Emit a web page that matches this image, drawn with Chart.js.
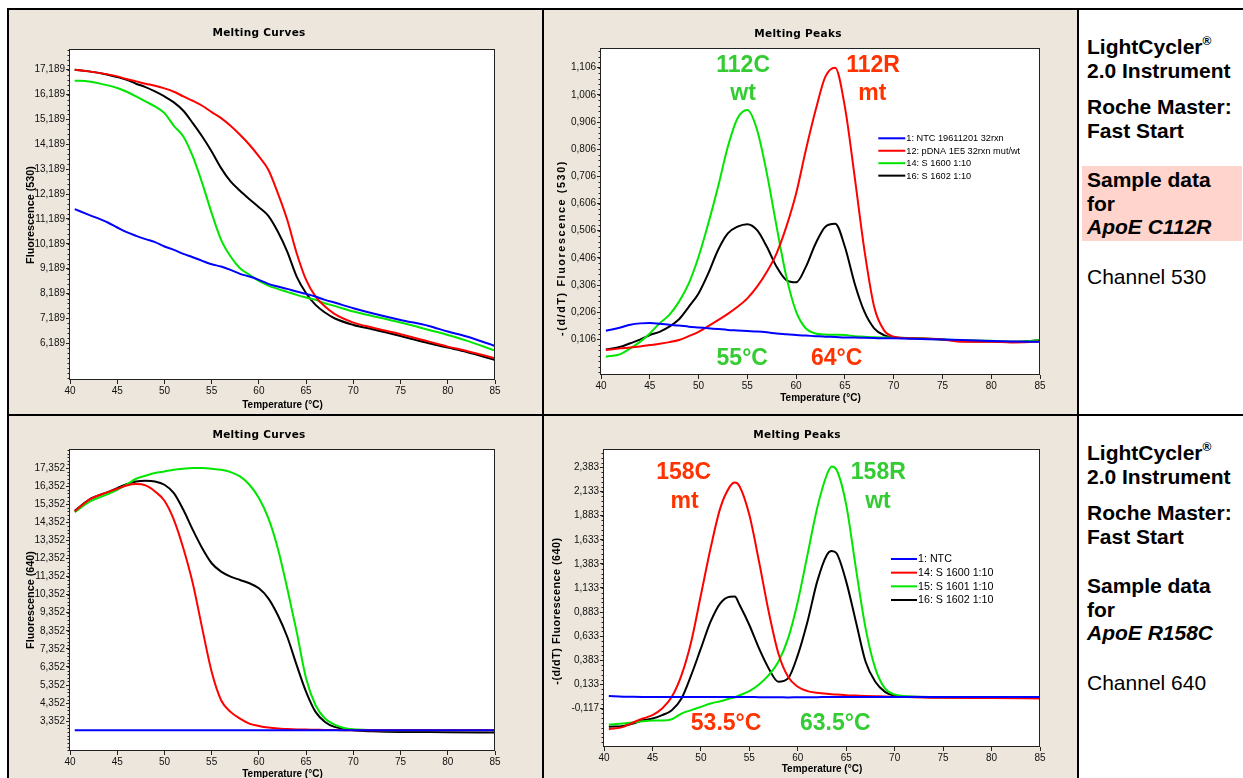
<!DOCTYPE html>
<html>
<head>
<meta charset="utf-8">
<title>ApoE melting curves and peaks</title>
<script src="https://cdn.jsdelivr.net/npm/chart.js@4.4.1/dist/chart.umd.min.js"></script>
<style>
  body { margin: 0; width: 1243px; height: 778px; overflow: hidden; position: relative; background: #fff;
         font-family: "Liberation Sans", Arial, sans-serif; }
  .rule { position: absolute; background: #000; }
  .panel { position: absolute; background: #ede6dc; }
  canvas { position: absolute; }
  .info { position: absolute; left: 1087px; font-size: 21px; line-height: 24px; font-weight: bold; color: #000; white-space: nowrap; }
  .info.plain { font-weight: normal; }
  .info sup { font-size: 12px; line-height: 0; vertical-align: 9px; }
  .hilite { position: absolute; left: 1082px; width: 160px; background: #ffd4cc; }
</style>
</head>
<body>
<div class="panel" style="left:9px;top:10px;width:533px;height:404px"></div>
<div class="panel" style="left:544px;top:10px;width:533px;height:404px"></div>
<div class="panel" style="left:9px;top:416px;width:533px;height:362px"></div>
<div class="panel" style="left:544px;top:416px;width:533px;height:362px"></div>

<canvas id="curves530" width="533" height="404" style="left:9px;top:10px"></canvas>
<canvas id="peaks530" width="533" height="404" style="left:544px;top:10px"></canvas>
<canvas id="curves640" width="533" height="362" style="left:9px;top:416px"></canvas>
<canvas id="peaks640" width="533" height="362" style="left:544px;top:416px"></canvas>

<div class="rule" style="left:7px;top:8px;width:1236px;height:2px"></div>
<div class="rule" style="left:7px;top:8px;width:2px;height:770px"></div>
<div class="rule" style="left:542px;top:8px;width:2px;height:770px"></div>
<div class="rule" style="left:1077px;top:8px;width:2px;height:770px"></div>
<div class="rule" style="left:7px;top:414px;width:1236px;height:2px"></div>

<div class="hilite" style="top:166px;height:75px"></div>
<div class="info" style="top:35px">LightCycler<sup>®</sup><br>2.0 Instrument</div>
<div class="info" style="top:95px">Roche Master:<br>Fast Start</div>
<div class="info" style="top:168px;line-height:23.5px">Sample data<br>for<br><i>ApoE C112R</i></div>
<div class="info plain" style="top:265px">Channel 530</div>

<div class="info" style="top:441px">LightCycler<sup>®</sup><br>2.0 Instrument</div>
<div class="info" style="top:501px">Roche Master:<br>Fast Start</div>
<div class="info" style="top:574px;line-height:23.5px">Sample data<br>for<br><i>ApoE R158C</i></div>
<div class="info plain" style="top:671px">Channel 640</div>

<script>
const xTicks = [40, 45, 50, 55, 60, 65, 70, 75, 80, 85];

// ApoE C112R, channel 530: melting curves
const curveTemps530 = [40.5, 42, 44, 45, 46, 47, 48, 49, 50, 51, 52, 53, 54, 55, 56, 57, 58, 59, 60, 61, 62, 63, 64, 65, 66, 67, 68, 70, 72, 75, 78, 80, 82, 85];
const curve530Ntc = [11582, 11354, 11045, 10844, 10656, 10509, 10375, 10254, 10080, 9945, 9784, 9650, 9503, 9369, 9275, 9141, 8980, 8872, 8738, 8577, 8470, 8376, 8269, 8175, 8067, 7933, 7826, 7598, 7397, 7128, 6887, 6659, 6458, 6082];
const curve530Pdna = [17189, 17122, 17001, 16921, 16813, 16720, 16626, 16545, 16438, 16304, 16116, 15941, 15740, 15485, 15244, 14935, 14573, 14171, 13701, 13165, 12226, 11153, 9811, 8738, 8067, 7665, 7370, 7021, 6820, 6552, 6256, 6055, 5881, 5586];
const curve530S1600 = [16746, 16719, 16559, 16451, 16304, 16116, 15915, 15713, 15445, 14935, 14506, 13701, 12628, 11421, 10348, 9677, 9207, 8939, 8698, 8510, 8376, 8255, 8135, 8027, 7933, 7799, 7692, 7464, 7289, 7021, 6726, 6525, 6297, 5894];
const curve530S1602 = [17189, 17122, 16988, 16894, 16787, 16626, 16491, 16317, 16116, 15874, 15539, 15043, 14506, 13903, 13232, 12695, 12320, 11984, 11662, 11313, 10683, 9878, 8872, 8202, 7732, 7424, 7195, 6927, 6753, 6485, 6189, 6015, 5841, 5519];
const yTicks530Curve = [6189, 7189, 8189, 9189, 10189, 11189, 12189, 13189, 14189, 15189, 16189, 17189];

// ApoE C112R, channel 530: melting peaks
const peakTemps530 = [40.5, 42, 43, 44, 45, 46, 47, 48, 49, 50, 51, 52, 53, 54, 55, 56, 57, 58, 59, 60, 61, 62, 63, 64, 65, 66, 67, 68, 69, 70, 72, 75, 77, 80, 82, 85];
const peak530Ntc = [0.138, 0.150, 0.160, 0.165, 0.166, 0.164, 0.160, 0.157, 0.153, 0.150, 0.147, 0.144, 0.141, 0.139, 0.137, 0.135, 0.132, 0.128, 0.125, 0.122, 0.120, 0.118, 0.116, 0.115, 0.113, 0.113, 0.112, 0.111, 0.110, 0.110, 0.108, 0.106, 0.104, 0.100, 0.098, 0.097];
const peak530Pdna = [0.067, 0.073, 0.076, 0.080, 0.085, 0.090, 0.096, 0.104, 0.118, 0.134, 0.155, 0.177, 0.200, 0.226, 0.257, 0.300, 0.355, 0.423, 0.521, 0.643, 0.803, 0.950, 1.073, 1.106, 0.962, 0.705, 0.435, 0.226, 0.140, 0.116, 0.110, 0.106, 0.097, 0.097, 0.095, 0.098];
const peak530S1600 = [0.042, 0.052, 0.073, 0.097, 0.128, 0.165, 0.196, 0.245, 0.312, 0.410, 0.533, 0.668, 0.815, 0.920, 0.950, 0.877, 0.717, 0.521, 0.337, 0.208, 0.146, 0.128, 0.124, 0.123, 0.122, 0.118, 0.116, 0.114, 0.113, 0.113, 0.110, 0.106, 0.103, 0.101, 0.097, 0.103];
const peak530S1602 = [0.069, 0.079, 0.092, 0.105, 0.122, 0.134, 0.153, 0.180, 0.226, 0.275, 0.349, 0.435, 0.496, 0.521, 0.530, 0.508, 0.447, 0.373, 0.324, 0.316, 0.373, 0.459, 0.521, 0.532, 0.447, 0.312, 0.208, 0.147, 0.122, 0.113, 0.110, 0.106, 0.100, 0.098, 0.097, 0.103];
const yTicks530Peak = [0.106, 0.206, 0.306, 0.406, 0.506, 0.606, 0.706, 0.806, 0.906, 1.006, 1.106];
const legend530 = ["1: NTC 19611201 32rxn", "12: pDNA 1E5 32rxn mut/wt", "14: S 1600 1:10", "16: S 1602 1:10"];

// ApoE R158C, channel 640: melting curves
const curveTemps640 = [40.5, 42, 44, 45, 46, 47, 48, 49, 50, 51, 52, 53, 54, 55, 56, 57, 58, 59, 60, 61, 62, 63, 64, 65, 66, 67, 68, 69, 70, 72, 75, 80, 85];
const curve640Ntc = [2853, 2853, 2853, 2853, 2853, 2853, 2853, 2853, 2853, 2853, 2853, 2853, 2853, 2853, 2853, 2853, 2853, 2853, 2853, 2853, 2853, 2853, 2853, 2853, 2853, 2853, 2853, 2853, 2853, 2853, 2853, 2853, 2853];
const curve640S1600 = [14951, 15597, 16022, 16207, 16392, 16465, 16392, 16059, 15542, 14489, 12919, 10980, 8487, 6085, 4515, 3869, 3500, 3222, 3093, 3000, 2945, 2920, 2900, 2890, 2880, 2870, 2865, 2860, 2853, 2850, 2850, 2850, 2850];
const curve640S1601 = [14914, 15468, 15912, 16151, 16429, 16761, 16927, 17075, 17167, 17260, 17315, 17352, 17352, 17315, 17260, 17130, 16890, 16429, 15690, 14581, 12919, 10703, 8302, 5716, 4238, 3500, 3167, 2983, 2908, 2870, 2853, 2853, 2853];
const curve640S1602 = [14988, 15597, 16022, 16244, 16465, 16613, 16650, 16613, 16429, 15967, 15043, 13935, 12919, 12088, 11626, 11349, 11165, 10980, 10703, 10149, 9225, 8025, 6455, 4977, 3869, 3315, 3038, 2930, 2853, 2798, 2761, 2750, 2724];
const yTicks640Curve = [3352, 4352, 5352, 6352, 7352, 8352, 9352, 10352, 11352, 12352, 13352, 14352, 15352, 16352, 17352];

// ApoE R158C, channel 640: melting peaks
const peakTemps640 = [40.5, 42, 43, 44, 45, 46, 47, 48, 49, 50, 51, 52, 53, 53.5, 54, 55, 56, 57, 58, 59, 60, 61, 62, 63, 63.5, 64, 65, 66, 67, 68, 69, 70, 72, 75, 80, 85];
const peak640Ntc = [0.012, 0.006, 0.004, 0.003, 0.003, 0.003, 0.003, 0.003, 0.003, 0.002, 0.002, 0.002, 0.002, 0.002, 0.002, 0.002, 0.001, 0.001, 0.000, -0.002, 0.000, 0.001, 0.001, 0.002, 0.002, 0.002, 0.002, 0.002, 0.002, 0.002, 0.002, 0.002, 0.002, 0.002, 0.003, 0.003];
const peak640S1600 = [-0.332, -0.307, -0.262, -0.221, -0.186, -0.117, 0.004, 0.229, 0.576, 1.060, 1.545, 1.961, 2.186, 2.227, 2.186, 1.891, 1.407, 0.887, 0.454, 0.212, 0.108, 0.063, 0.046, 0.035, 0.031, 0.028, 0.021, 0.017, 0.013, 0.010, 0.008, 0.004, 0.000, -0.006, -0.008, -0.013];
const peak640S1601 = [-0.283, -0.273, -0.262, -0.249, -0.242, -0.242, -0.228, -0.169, -0.134, -0.100, -0.065, -0.041, -0.013, 0.000, 0.021, 0.063, 0.132, 0.229, 0.368, 0.610, 0.991, 1.476, 1.961, 2.307, 2.393, 2.359, 1.995, 1.337, 0.714, 0.299, 0.091, 0.028, 0.005, -0.003, -0.003, 0.000];
const peak640S1602 = [-0.307, -0.297, -0.273, -0.238, -0.221, -0.186, -0.134, -0.013, 0.229, 0.506, 0.783, 0.974, 1.043, 1.045, 0.956, 0.749, 0.506, 0.299, 0.160, 0.195, 0.437, 0.783, 1.199, 1.476, 1.517, 1.493, 1.199, 0.783, 0.368, 0.160, 0.056, 0.015, 0.004, 0.000, 0.000, 0.000];
const yTicks640Peak = [-0.117, 0.133, 0.383, 0.633, 0.883, 1.133, 1.383, 1.633, 1.883, 2.133, 2.383];
const legend640 = ["1: NTC", "14: S 1600 1:10", "15: S 1601 1:10", "16: S 1602 1:10"];

const BLUE = "#0000ff", RED = "#ff0000", GREEN = "#00e600", BLACK = "#000000";
const NOTE_RED = "#ff3300", NOTE_GREEN = "#33cc33";

Chart.defaults.font.family = '"Liberation Sans", Arial, sans-serif';
Chart.defaults.font.size = 10;
Chart.defaults.color = "#000";

const thousands = (v) => Math.round(v).toLocaleString("en-US");
const decimalComma = (v) => v.toFixed(3).replace(".", ",");

// white plot area, frame, minor ticks, titles, legend and labels
const panelDecor = {
  id: "panelDecor",
  beforeDraw(chart) {
    const { ctx, chartArea: a } = chart;
    ctx.save();
    ctx.fillStyle = "#fff";
    ctx.fillRect(a.left, a.top, a.right - a.left, a.bottom - a.top);
    ctx.restore();
  },
  afterDraw(chart, args, o) {
    const { ctx, chartArea: a, scales } = chart;
    const y = scales.y;
    ctx.save();
    ctx.strokeStyle = "#222";
    ctx.lineWidth = 1;
    const l = Math.round(a.left) - 0.5, t = Math.round(a.top) + 0.5;
    const r = Math.round(a.right) - 0.5, b = Math.round(a.bottom) - 0.5;
    ctx.strokeRect(l, t, r - l, b - t);

    // minor ticks on the value axis
    ctx.beginPath();
    const first = y.ticks[0].value;
    for (let v = first; v <= y.max; v += o.minorStep) addMinor(v);
    for (let v = first - o.minorStep; v >= y.min; v -= o.minorStep) addMinor(v);
    function addMinor(v) {
      const py = Math.round(y.getPixelForValue(v)) + 0.5;
      ctx.moveTo(l, py);
      ctx.lineTo(l - 2, py);
    }
    ctx.stroke();

    // chart title
    ctx.fillStyle = "#000";
    ctx.textAlign = "center";
    ctx.textBaseline = "middle";
    ctx.font = 'bold 10.5px "DejaVu Sans"';
    ctx.letterSpacing = "0.3px";
    ctx.fillText(o.title, o.titleX, o.titleY);

    // axis titles
    ctx.font = 'bold 10px "Liberation Sans"';
    ctx.letterSpacing = "0px";
    ctx.fillText("Temperature (°C)", (a.left + a.right) / 2, o.xTitleY);
    ctx.save();
    ctx.translate(o.yTitleX, o.yTitleY);
    ctx.rotate(-Math.PI / 2);
    ctx.font = 'bold ' + o.yTitleSize + 'px "Liberation Sans"';
    ctx.letterSpacing = o.yTitleSpacing + "px";
    ctx.fillText(o.yTitle, 0, 0);
    ctx.restore();

    // legend
    if (o.legend) {
      const lg = o.legend;
      ctx.font = lg.size + 'px "Liberation Sans"';
      ctx.textAlign = "left";
      chart.data.datasets.forEach((ds, i) => {
        const ly = lg.y + i * lg.rowH;
        ctx.strokeStyle = ds.borderColor;
        ctx.lineWidth = 2;
        ctx.beginPath();
        ctx.moveTo(lg.x, ly);
        ctx.lineTo(lg.x + lg.lineLen, ly);
        ctx.stroke();
        ctx.fillStyle = "#000";
        ctx.fillText(ds.label, lg.x + lg.lineLen + 1, ly + 0.5);
      });
    }

    // big peak labels, anchored in data coordinates
    ctx.font = 'bold 23px "Liberation Sans"';
    ctx.textAlign = "center";
    (o.notes || []).forEach((n) => {
      ctx.fillStyle = n.color;
      ctx.fillText(n.text, scales.x.getPixelForValue(n.t), y.getPixelForValue(n.v));
    });
    ctx.restore();
  },
};

function series(temps, values) {
  return temps.map((t, i) => ({ x: t, y: values[i] }));
}

function makeChart(id, c) {
  const datasets = c.lines.map((s) => ({
    label: s.label,
    data: series(c.temps, s.values),
    borderColor: s.color,
    backgroundColor: s.color,
    borderWidth: 2,
    pointRadius: 0,
    fill: false,
    cubicInterpolationMode: "monotone",
  }));
  return new Chart(document.getElementById(id), {
    type: "line",
    data: { datasets },
    plugins: [panelDecor],
    options: {
      responsive: false,
      animation: false,
      layout: { padding: { top: c.box.top, right: c.box.right, bottom: 0, left: 0 } },
      plugins: {
        legend: { display: false },
        tooltip: { enabled: false },
        panelDecor: c.decor,
      },
      scales: {
        x: {
          type: "linear",
          min: 40,
          max: 85,
          afterBuildTicks: (s) => { s.ticks = xTicks.map((v) => ({ value: v })); },
          afterFit: (s) => { s.height = c.box.bottom; },
          ticks: { padding: 1, maxRotation: 0, callback: (v) => String(v), color: "#111" },
          grid: { drawOnChartArea: false, tickLength: 4, color: "#222" },
          border: { display: false },
        },
        y: {
          type: "linear",
          min: c.yMin,
          max: c.yMax,
          afterBuildTicks: (s) => { s.ticks = c.yTicks.map((v) => ({ value: v })); },
          afterFit: (s) => { s.width = c.box.left; },
          ticks: { padding: 1, callback: c.fmt, color: "#111" },
          grid: { drawOnChartArea: false, tickLength: 4, color: "#222" },
          border: { display: false },
        },
      },
    },
  });
}

makeChart("curves530", {
  temps: curveTemps530,
  lines: [
    { label: legend530[0], color: BLUE, values: curve530Ntc },
    { label: legend530[1], color: RED, values: curve530Pdna },
    { label: legend530[2], color: GREEN, values: curve530S1600 },
    { label: legend530[3], color: BLACK, values: curve530S1602 },
  ],
  yMin: 4712, yMax: 18022, yTicks: yTicks530Curve, fmt: thousands,
  box: { left: 61, right: 47, top: 39, bottom: 34 },
  decor: {
    title: "Melting Curves", titleX: 250, titleY: 23, minorStep: 200,
    xTitleY: 395.5, yTitle: "Fluorescence (530)", yTitleX: 22, yTitleY: 205, yTitleSize: 10.8, yTitleSpacing: 0,
  },
});

makeChart("peaks530", {
  temps: peakTemps530,
  lines: [
    { label: legend530[0], color: BLUE, values: peak530Ntc },
    { label: legend530[1], color: RED, values: peak530Pdna },
    { label: legend530[2], color: GREEN, values: peak530S1600 },
    { label: legend530[3], color: BLACK, values: peak530S1602 },
  ],
  yMin: -0.025, yMax: 1.1785, yTicks: yTicks530Peak, fmt: decimalComma,
  box: { left: 57, right: 37, top: 38, bottom: 39 },
  decor: {
    title: "Melting Peaks", titleX: 254, titleY: 24.3, minorStep: 0.02,
    xTitleY: 388.3, yTitle: "-(d/dT) Fluorescence (530)", yTitleX: 18.5, yTitleY: 238, yTitleSize: 10.8, yTitleSpacing: 1.6,
    legend: { x: 334.3, y: 128.3, rowH: 12.45, lineLen: 27, size: 9.2 },
    notes: [
      { text: "112C", color: NOTE_GREEN, t: 54.57, v: 1.115 },
      { text: "wt", color: NOTE_GREEN, t: 54.56, v: 1.012 },
      { text: "112R", color: NOTE_RED, t: 67.89, v: 1.115 },
      { text: "mt", color: NOTE_RED, t: 67.81, v: 1.012 },
      { text: "55°C", color: NOTE_GREEN, t: 54.48, v: 0.035 },
      { text: "64°C", color: NOTE_RED, t: 64.15, v: 0.035 },
    ],
  },
});

makeChart("curves640", {
  temps: curveTemps640,
  lines: [
    { label: legend640[0], color: BLUE, values: curve640Ntc },
    { label: legend640[1], color: RED, values: curve640S1600 },
    { label: legend640[2], color: GREEN, values: curve640S1601 },
    { label: legend640[3], color: BLACK, values: curve640S1602 },
  ],
  yMin: 1707, yMax: 18405, yTicks: yTicks640Curve, fmt: thousands,
  box: { left: 61, right: 47, top: 33, bottom: 27 },
  decor: {
    title: "Melting Curves", titleX: 250, titleY: 19, minorStep: 200,
    xTitleY: 358, yTitle: "Fluorescence (640)", yTitleX: 22, yTitleY: 184, yTitleSize: 10.8, yTitleSpacing: 0,
  },
});

makeChart("peaks640", {
  temps: peakTemps640,
  lines: [
    { label: legend640[0], color: BLUE, values: peak640Ntc },
    { label: legend640[1], color: RED, values: peak640S1600 },
    { label: legend640[2], color: GREEN, values: peak640S1601 },
    { label: legend640[3], color: BLACK, values: peak640S1602 },
  ],
  yMin: -0.516, yMax: 2.574, yTicks: yTicks640Peak, fmt: decimalComma,
  box: { left: 60, right: 37, top: 33, bottom: 31 },
  decor: {
    title: "Melting Peaks", titleX: 253, titleY: 19.7, minorStep: 0.05,
    xTitleY: 353, yTitle: "-(d/dT) Fluorescence (640)", yTitleX: 13.3, yTitleY: 195, yTitleSize: 10.8, yTitleSpacing: 0.5,
    legend: { x: 347, y: 143, rowH: 13.67, lineLen: 26, size: 10.7 },
    notes: [
      { text: "158C", color: NOTE_RED, t: 48.22, v: 2.325 },
      { text: "mt", color: NOTE_RED, t: 48.32, v: 2.03 },
      { text: "158R", color: NOTE_GREEN, t: 68.31, v: 2.325 },
      { text: "wt", color: NOTE_GREEN, t: 68.28, v: 2.03 },
      { text: "53.5°C", color: NOTE_RED, t: 52.6, v: -0.273 },
      { text: "63.5°C", color: NOTE_GREEN, t: 63.87, v: -0.273 },
    ],
  },
});
</script>
</body>
</html>
